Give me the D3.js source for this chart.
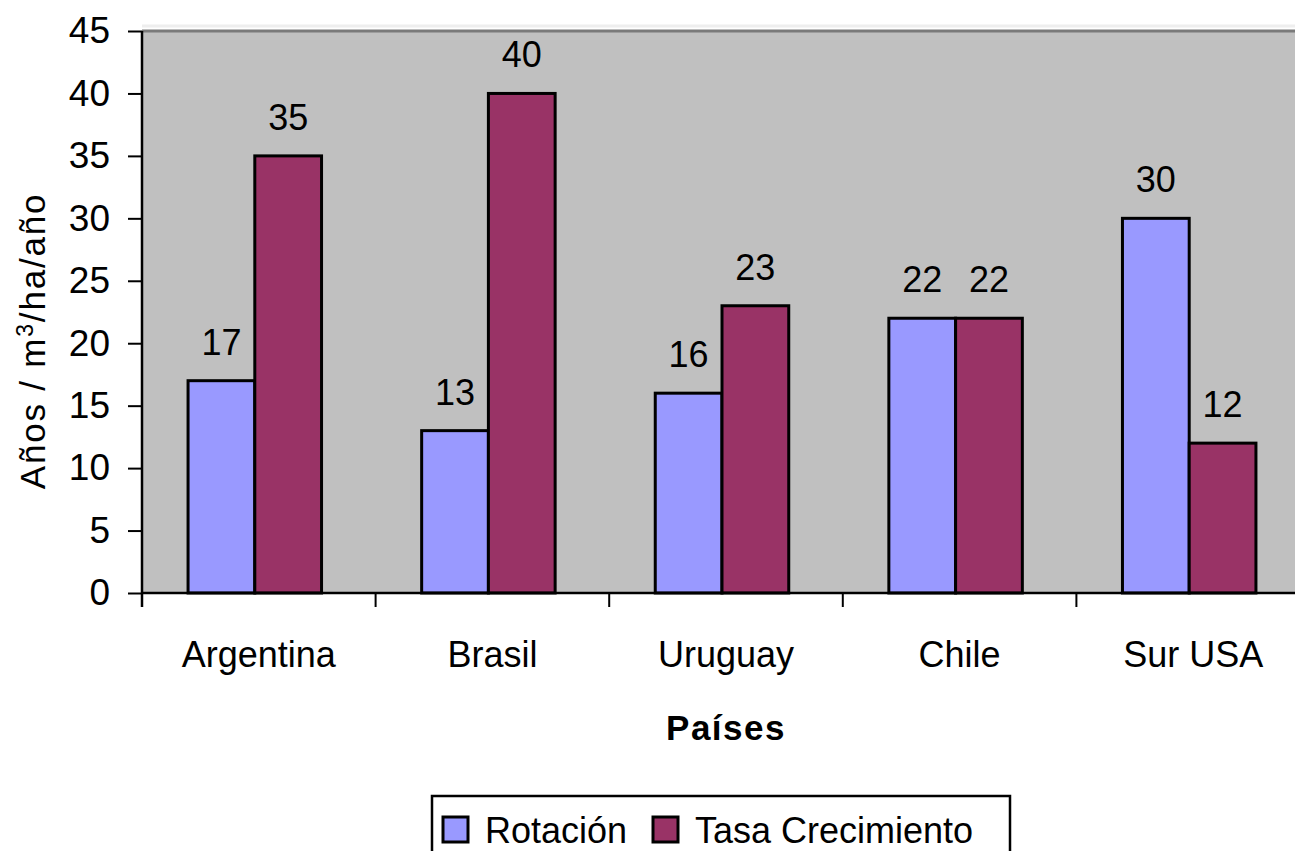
<!DOCTYPE html>
<html>
<head>
<meta charset="utf-8">
<script src="https://cdn.jsdelivr.net/npm/d3@7"></script>
<style>
  body { margin: 0; background: #fff; }
  text { font-family: "Liberation Sans", Arial, sans-serif; fill: #000; }
</style>
</head>
<body>
<div class="graph"></div>
<script>
var paises = ['Argentina', 'Brasil', 'Uruguay', 'Chile', 'Sur USA'];
var series = ['Rotación', 'Tasa Crecimiento'];
var rotacion = [17, 13, 16, 22, 30];
var tasa = [35, 40, 23, 22, 12];
var yTicks = [0, 5, 10, 15, 20, 25, 30, 35, 40, 45];

var colors = { 'Rotación': '#9999ff', 'Tasa Crecimiento': '#993366' };

var rows = paises.map(function (p, i) {
  return { pais: p, values: [
    { key: 'Rotación', v: rotacion[i] },
    { key: 'Tasa Crecimiento', v: tasa[i] }
  ] };
});

var W = 1295, H = 851;
var plotL = 142, plotT = 31, plotB = 593, plotR = 1310;

var svg = d3.select('.graph').append('svg')
  .attr('width', W).attr('height', H);

var x0 = d3.scaleBand().domain(paises).range([plotL, plotR]).padding(0);
var x1 = d3.scaleBand().domain(series)
  .range([-4, x0.bandwidth() - 4])
  .paddingInner(0).paddingOuter(0.75);
var y = d3.scaleLinear().domain([0, 45]).range([plotB, plotT]);

// plot area
svg.append('rect')
  .attr('x', plotL).attr('y', plotT)
  .attr('width', W - plotL).attr('height', plotB - plotT)
  .attr('fill', '#c0c0c0');
svg.append('line')
  .attr('x1', plotL).attr('x2', W).attr('y1', plotT - 5).attr('y2', plotT - 5)
  .attr('stroke', '#eeeeee').attr('stroke-width', 3);
svg.append('line')
  .attr('x1', plotL).attr('x2', W).attr('y1', plotT).attr('y2', plotT)
  .attr('stroke', '#7a7a7a').attr('stroke-width', 3);

// bars
var groups = svg.selectAll('g.pais')
  .data(rows).enter().append('g')
  .attr('class', 'pais')
  .attr('transform', function (d) { return 'translate(' + x0(d.pais) + ',0)'; });

groups.selectAll('rect')
  .data(function (d) { return d.values; })
  .enter().append('rect')
  .attr('x', function (d) { return x1(d.key); })
  .attr('y', function (d) { return y(d.v); })
  .attr('width', x1.bandwidth())
  .attr('height', function (d) { return y(0) - y(d.v); })
  .attr('fill', function (d) { return colors[d.key]; })
  .attr('stroke', '#000').attr('stroke-width', 3);

groups.selectAll('text.valor')
  .data(function (d) { return d.values; })
  .enter().append('text')
  .attr('class', 'valor')
  .attr('x', function (d) { return x1(d.key) + x1.bandwidth() / 2; })
  .attr('y', function (d) { return y(d.v) - 26; })
  .attr('text-anchor', 'middle')
  .style('font-size', '36px')
  .text(function (d) { return d.v; });

// y axis
var yAxis = d3.axisLeft(y).tickValues(yTicks).tickSize(14).tickPadding(18);
var ga = svg.append('g').attr('transform', 'translate(' + plotL + ',0)').call(yAxis);
ga.select('.domain').attr('stroke', '#000').attr('stroke-width', 2.5)
  .attr('d', 'M0,' + plotT + 'V' + (plotB + 14));
ga.selectAll('.tick line').attr('stroke', '#000').attr('stroke-width', 2);
ga.selectAll('.tick text').style('font-size', '37px')
  .style('font-family', '"Liberation Sans", Arial, sans-serif').attr('fill', '#000');

// x axis
svg.append('line')
  .attr('x1', plotL).attr('x2', W).attr('y1', plotB).attr('y2', plotB)
  .attr('stroke', '#000').attr('stroke-width', 2.5);
svg.selectAll('line.xtick')
  .data(paises).enter().append('line')
  .attr('class', 'xtick')
  .attr('x1', function (d) { return x0(d); })
  .attr('x2', function (d) { return x0(d); })
  .attr('y1', plotB).attr('y2', plotB + 14)
  .attr('stroke', '#000').attr('stroke-width', 2);
svg.selectAll('text.cat')
  .data(paises).enter().append('text')
  .attr('class', 'cat')
  .attr('x', function (d) { return x0(d) + x0.bandwidth() / 2; })
  .attr('y', 667)
  .attr('text-anchor', 'middle')
  .style('font-size', '36px')
  .text(function (d) { return d; });

// axis titles
svg.append('text')
  .attr('x', (plotL + plotR) / 2).attr('y', 740)
  .attr('text-anchor', 'middle')
  .style('font-size', '35px').style('font-weight', 'bold')
  .style('letter-spacing', '1.5px')
  .text('Países');

var yt = svg.append('text')
  .attr('transform', 'translate(45,341) rotate(-90)')
  .attr('text-anchor', 'middle')
  .style('font-size', '35px')
  .style('letter-spacing', '1.8px');
yt.append('tspan').text('Años / m');
yt.append('tspan').attr('dy', -12).style('font-size', '23px').text('3');
yt.append('tspan').attr('dy', 12).text('/ha/año');

// legend
var lg = svg.append('g').attr('class', 'legend');
lg.append('rect')
  .attr('x', 432).attr('y', 796).attr('width', 578).attr('height', 80)
  .attr('fill', '#fff').attr('stroke', '#000').attr('stroke-width', 2.5);
var legX = [443, 653];
var items = lg.selectAll('g.item')
  .data(series).enter().append('g')
  .attr('class', 'item')
  .attr('transform', function (d, i) { return 'translate(' + legX[i] + ',817)'; });
items.append('rect')
  .attr('width', 25).attr('height', 25)
  .attr('fill', function (d) { return colors[d]; })
  .attr('stroke', '#000').attr('stroke-width', 3);
items.append('text')
  .attr('x', 42).attr('y', 26)
  .style('font-size', '36px')
  .text(function (d) { return d; });
</script>
</body>
</html>
